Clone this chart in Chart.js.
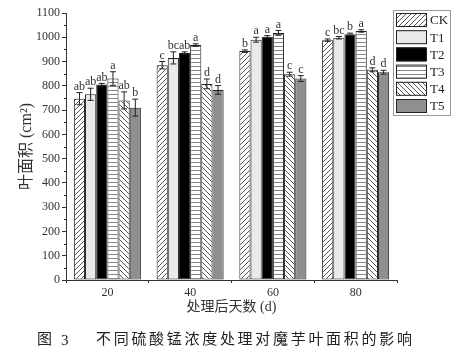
<!DOCTYPE html>
<html>
<head>
<meta charset="utf-8">
<script src="https://cdn.jsdelivr.net/npm/chart.js@4"></script>
<style>
  html, body { margin: 0; padding: 0; background: #fff; }
  #wrap { width: 470px; height: 362px; }
</style>
</head>
<body>
<div id="wrap"><canvas id="chart" width="470" height="362"></canvas></div>
<script>
const days = ['20', '40', '60', '80'];
const seriesNames = ['CK', 'T1', 'T2', 'T3', 'T4', 'T5'];

const ckValues = [747, 885, 943, 988];
const t1Values = [765, 915, 990, 998];
const t2Values = [805, 935, 1002, 1012];
const t3Values = [830, 968, 1018, 1026];
const t4Values = [740, 808, 848, 866];
const t5Values = [710, 783, 830, 856];

const ckErr = [25, 15, 5, 5];
const t1Err = [25, 25, 10, 5];
const t2Err = [5, 5, 5, 5];
const t3Err = [28, 5, 10, 5];
const t4Err = [35, 20, 8, 8];
const t5Err = [35, 18, 12, 8];

const ckLetters = ['ab', 'c', 'b', 'c'];
const t1Letters = ['ab', 'bc', 'a', 'bc'];
const t2Letters = ['ab', 'ab', 'a', 'b'];
const t3Letters = ['a', 'a', 'a', 'a'];
const t4Letters = ['ab', 'd', 'c', 'd'];
const t5Letters = ['b', 'd', 'c', 'd'];

const yTicks = [0, 100, 200, 300, 400, 500, 600, 700, 800, 900, 1000, 1100];

const values = [ckValues, t1Values, t2Values, t3Values, t4Values, t5Values];
const errors = [ckErr, t1Err, t2Err, t3Err, t4Err, t5Err];
const letters = [ckLetters, t1Letters, t2Letters, t3Letters, t4Letters, t5Letters];

const serif = "'Liberation Serif', 'DejaVu Serif', serif";
const cjk = "'Liberation Serif', 'Noto Sans CJK SC', serif";

function hatch(kind) {
    const s = kind === 'h' ? 4 : 5;
    const c = document.createElement('canvas');
    c.width = s; c.height = s;
    const g = c.getContext('2d');
    g.fillStyle = '#fff';
    g.fillRect(0, 0, s, s);
    g.strokeStyle = kind === 'h' ? '#777' : '#444';
    g.lineWidth = 0.9;
    g.beginPath();
    if (kind === 'h') {
        g.moveTo(0, 2.5); g.lineTo(s, 2.5);
    } else if (kind === '/') {
        g.moveTo(0, s); g.lineTo(s, 0);
        g.moveTo(-1, 1); g.lineTo(1, -1);
        g.moveTo(s - 1, s + 1); g.lineTo(s + 1, s - 1);
    } else {
        g.moveTo(0, 0); g.lineTo(s, s);
        g.moveTo(-1, s - 1); g.lineTo(1, s + 1);
        g.moveTo(s - 1, -1); g.lineTo(s + 1, 1);
    }
    g.stroke();
    return g.createPattern(c, 'repeat');
}

const fills = [hatch('/'), '#e9e9e9', '#000000', hatch('h'), hatch('\\'), '#8f8f8f'];

const extras = {
    id: 'extras',
    afterDatasetsDraw(chart) {
        const ctx = chart.ctx;
        const y = chart.scales.y;
        ctx.save();
        ctx.strokeStyle = '#222';
        ctx.lineWidth = 1;
        ctx.fillStyle = '#333';
        ctx.font = '12px ' + serif;
        ctx.textAlign = 'center';
        ctx.textBaseline = 'bottom';
        values.forEach((vals, i) => {
            const meta = chart.getDatasetMeta(i);
            meta.data.forEach((bar, j) => {
                const top = y.getPixelForValue(vals[j] + errors[i][j]);
                const bot = y.getPixelForValue(vals[j] - errors[i][j]);
                ctx.beginPath();
                ctx.moveTo(bar.x, top); ctx.lineTo(bar.x, bot);
                ctx.moveTo(bar.x - 3, top); ctx.lineTo(bar.x + 3, top);
                ctx.moveTo(bar.x - 3, bot); ctx.lineTo(bar.x + 3, bot);
                ctx.stroke();
                ctx.fillText(letters[i][j], bar.x, top);
            });
        });
        // minor ticks on y axis
        const left = chart.chartArea.left;
        ctx.beginPath();
        for (let v = 50; v < 1100; v += 100) {
            const py = Math.round(y.getPixelForValue(v)) + 0.5;
            ctx.moveTo(left - 2, py); ctx.lineTo(left, py);
        }
        ctx.stroke();
        ctx.restore();
    },
    afterDraw(chart) {
        const ctx = chart.ctx;
        ctx.save();
        // legend
        const lx = 393, ly = 10, lw = 57, lh = 105;
        ctx.strokeStyle = '#999';
        ctx.lineWidth = 1;
        ctx.strokeRect(lx + 0.5, ly + 0.5, lw, lh);
        ctx.font = '13px ' + serif;
        ctx.textBaseline = 'middle';
        ctx.textAlign = 'left';
        seriesNames.forEach((name, i) => {
            const cy = 20 + i * 17.2;
            ctx.fillStyle = fills[i];
            ctx.fillRect(396, cy - 7, 30, 14);
            ctx.strokeStyle = '#222';
            ctx.strokeRect(396.5, cy - 6.5, 30, 13);
            ctx.fillStyle = '#222';
            ctx.fillText(name, 430, cy + 1);
        });
        // caption
        ctx.fillStyle = '#222';
        ctx.font = '15px ' + cjk;
        ctx.textAlign = 'left';
        ctx.fillText('图', 37, 340);
        ctx.fillText('3', 61, 341);
        const cap = '不同硫酸锰浓度处理对魔芋叶面积的影响';
        [...cap].forEach((ch, k) => ctx.fillText(ch, 96 + k * 17.7, 340));
        ctx.restore();
    }
};

const datasets = seriesNames.map((name, i) => ({
    label: name,
    data: values[i],
    backgroundColor: fills[i],
    borderColor: '#222',
    borderWidth: 1,
    borderSkipped: false,
    barPercentage: 1,
    categoryPercentage: 0.81
}));

new Chart(document.getElementById('chart'), {
    type: 'bar',
    data: { labels: days, datasets },
    options: {
        responsive: false,
        animation: false,
        layout: { padding: { top: 13, right: 73, bottom: 42, left: 0 } },
        plugins: { legend: { display: false }, tooltip: { enabled: false } },
        scales: {
            x: {
                grid: { display: true, drawOnChartArea: false, tickLength: 3, color: '#333', offset: true },
                border: { color: '#333', width: 1 },
                ticks: { color: '#333', font: { family: serif, size: 12 }, padding: 3 },
                title: { display: true, text: '处理后天数 (d)', color: '#333', font: { family: cjk, size: 14 }, padding: { top: 0, bottom: 4 } },
                afterFit(scale) { scale.height = 40; }
            },
            y: {
                min: 0, max: 1100,
                afterBuildTicks(scale) { scale.ticks = yTicks.map(v => ({ value: v })); },
                grid: { display: true, drawOnChartArea: false, tickLength: 4, color: '#333' },
                border: { color: '#333', width: 1 },
                ticks: { color: '#333', font: { family: serif, size: 12 }, padding: 2, callback: v => String(v) },
                title: { display: true, text: '叶面积 (cm²)', color: '#333', font: { family: cjk, size: 16 }, padding: { top: 17, bottom: 0 } },
                afterFit(scale) { scale.width = 66; }
            }
        }
    },
    plugins: [extras]
});
</script>
</body>
</html>
